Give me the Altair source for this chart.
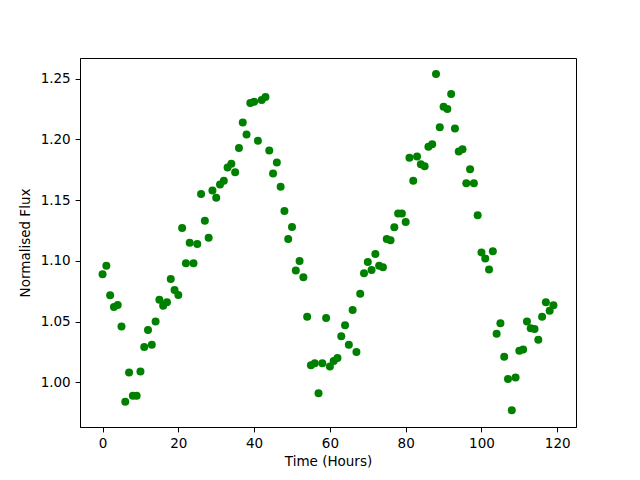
import altair as alt
import pandas as pd

hours = list(range(120))
flux = [
    1.089, 1.096, 1.0717, 1.062, 1.0637, 1.046, 0.984, 1.008, 0.989, 0.989,
    1.009, 1.029, 1.043, 1.031, 1.050, 1.068, 1.063, 1.066, 1.085, 1.076,
    1.072, 1.127, 1.098, 1.115, 1.098, 1.114, 1.155, 1.133, 1.119, 1.158,
    1.152, 1.163, 1.166, 1.177, 1.180, 1.173, 1.193, 1.214, 1.204, 1.230,
    1.231, 1.199, 1.2325, 1.235, 1.191, 1.172, 1.181, 1.161, 1.141, 1.118,
    1.128, 1.092, 1.100, 1.0865, 1.054, 1.014, 1.0157, 0.991, 1.0157, 1.053,
    1.013, 1.0175, 1.020, 1.038, 1.047, 1.031, 1.0596, 1.025, 1.073, 1.0898,
    1.099, 1.0925, 1.1057, 1.096, 1.0947, 1.118, 1.117, 1.1277, 1.139, 1.139,
    1.132, 1.185, 1.166, 1.186, 1.1796, 1.178, 1.194, 1.196, 1.254, 1.210,
    1.227, 1.225, 1.2375, 1.209, 1.190, 1.192, 1.164, 1.1755, 1.164, 1.1376,
    1.107, 1.102, 1.093, 1.108, 1.040, 1.0486, 1.021, 1.0027, 0.977, 1.004,
    1.026, 1.027, 1.050, 1.0445, 1.044, 1.035, 1.054, 1.066, 1.059, 1.0634,
]
x_ticks = [0, 20, 40, 60, 80, 100, 120]
y_ticks = [1.00, 1.05, 1.10, 1.15, 1.20, 1.25]

df = pd.DataFrame({"hours": hours, "flux": flux})

font = "DejaVu Sans"

chart = alt.Chart(df).mark_circle(size=64, color="#008000", opacity=1).encode(
    x=alt.X("hours:Q",
            scale=alt.Scale(domain=[-5.95, 124.95], nice=False, zero=False),
            axis=alt.Axis(title="Time (Hours)", values=x_ticks, format="d",
                          titlePadding=4)),
    y=alt.Y("flux:Q",
            scale=alt.Scale(domain=[0.9632, 1.2671], nice=False, zero=False),
            axis=alt.Axis(title="Normalised Flux", values=y_ticks, format=".2f",
                          titlePadding=8)),
).properties(
    width=496, height=369,
    autosize=alt.AutoSizeParams(type="none"),
    padding={"left": 72, "top": 50, "right": 56, "bottom": 45},
).configure_view(
    stroke="black", strokeWidth=1
).configure_axis(
    grid=False, domainColor="black", domainWidth=1, tickColor="black",
    tickSize=4.9, tickWidth=1, labelPadding=4.9, labelFont=font, labelFontSize=13.5,
    labelColor="black", titleFont=font, titleFontSize=13.5, titleFontWeight="normal",
    titleColor="black", labelFlush=False,
)

chart.save("out.html", embed_options={"renderer": "svg", "actions": False})
